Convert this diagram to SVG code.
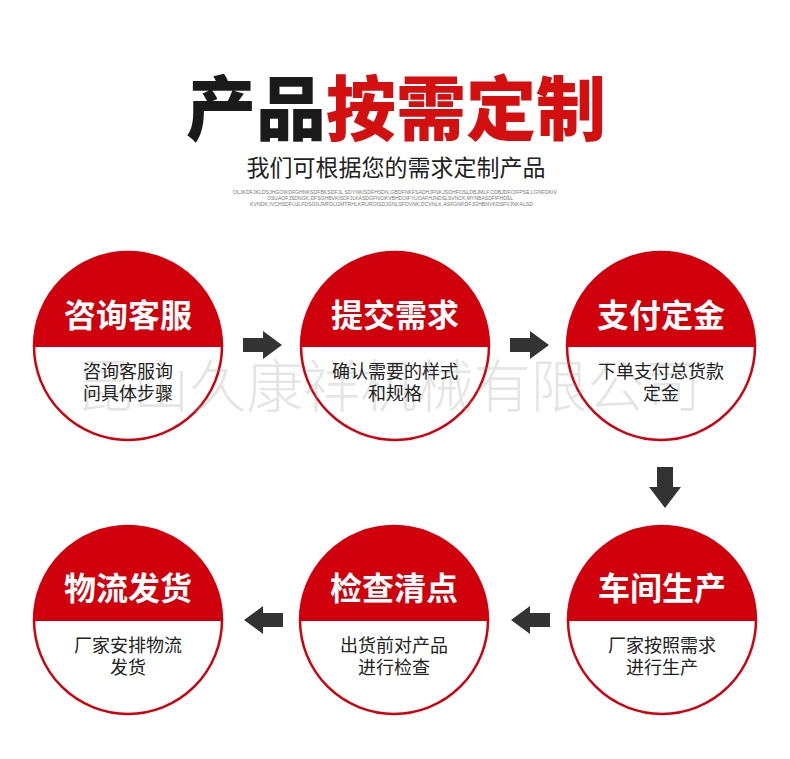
<svg xmlns="http://www.w3.org/2000/svg" xmlns:xlink="http://www.w3.org/1999/xlink" width="790" height="759" viewBox="0 0 790 759">
<style>
text{font-family:"Noto Sans CJK SC","Noto Sans",sans-serif}
.t{font-size:32px;font-weight:700;fill:#fff;text-anchor:middle}
.s{font-size:18px;fill:#222;text-anchor:middle}
.arr{fill:#333}
.wm{font-size:57px;font-weight:300;fill:#999;opacity:0.25}
.tiny{font-family:"Liberation Sans",sans-serif;font-size:5.5px;fill:#777}
</style>
<defs>
<g id="badge">
<circle r="94" fill="#fff"/>
<path d="M -93.99 1 A 94 94 0 1 1 93.99 1 Z" fill="#d0000c"/>
<circle r="94" fill="none" stroke="#d0000c" stroke-width="2.5"/>
</g>
</defs>
<rect width="790" height="759" fill="#fff"/>
<g id="header">
<text x="396" y="135" text-anchor="middle" font-size="70" font-weight="900"><tspan fill="#1a1a1a">产品</tspan><tspan fill="#d40f10">按需定制</tspan></text>
<text x="396" y="176" text-anchor="middle" font-size="23" fill="#222">我们可根据您的需求定制产品</text>
<text class="tiny" x="233" y="194" textLength="324" lengthAdjust="spacingAndGlyphs">OLJKDFJKLDSJHGOIKDFGHNKSDFBKSDFJL,SDYNKISDFHSDN,GBDFNKFSADHJFNKJSDHFOSLDBJMLF,CDBJDFOIFPSE;LGNFDKIV</text>
<text class="tiny" x="267" y="200" textLength="246" lengthAdjust="spacingAndGlyphs">OSUAOFJSDNGK,DFSGHBVKISDFJLKASDGFNCIKVBHDOIFYUOAFHJNDSLSVNCK,MYNBASDFIFHDSL</text>
<text class="tiny" x="250" y="206" textLength="283" lengthAdjust="spacingAndGlyphs">KVNDK,IVCHSDFUJLFDSGNJMFDLGMTRHLKRUROISDJGNLSFDVNK,DCVNLK,ASFGNKDFJGHBNVKDSFVJNKALSD</text>
</g>
<g id="node1">
<use xlink:href="#badge" x="128" y="346"/>
<text class="t" x="128" y="327">咨询客服</text>
</g>
<g id="node2">
<use xlink:href="#badge" x="395" y="346"/>
<text class="t" x="395" y="327">提交需求</text>
</g>
<g id="node3">
<use xlink:href="#badge" x="661" y="346"/>
<text class="t" x="661" y="327">支付定金</text>
</g>
<g id="node4">
<use xlink:href="#badge" x="128" y="620"/>
<text class="t" x="128" y="600">物流发货</text>
<text class="s" x="128" y="652">厂家安排物流</text>
<text class="s" x="128" y="674">发货</text>
</g>
<g id="node5">
<use xlink:href="#badge" x="394" y="620"/>
<text class="t" x="394" y="600">检查清点</text>
<text class="s" x="394" y="652">出货前对产品</text>
<text class="s" x="394" y="674">进行检查</text>
</g>
<g id="node6">
<use xlink:href="#badge" x="662" y="620"/>
<text class="t" x="662" y="600">车间生产</text>
<text class="s" x="662" y="652">厂家按照需求</text>
<text class="s" x="662" y="674">进行生产</text>
</g>
<text class="wm" x="76" y="407" textLength="625" lengthAdjust="spacingAndGlyphs">昆山久康祥机械有限公司</text>
<g id="node1-text">
<text class="s" x="128" y="378">咨询客服询</text>
<text class="s" x="128" y="400">问具体步骤</text>
</g>
<g id="node2-text">
<text class="s" x="395" y="378">确认需要的样式</text>
<text class="s" x="395" y="400">和规格</text>
</g>
<g id="node3-text">
<text class="s" x="661" y="378">下单支付总货款</text>
<text class="s" x="661" y="400">定金</text>
</g>
<g id="connectors">
<polygon class="arr" points="243,338 263,338 263,331 282,345 263,359 263,352 243,352"/>
<polygon class="arr" points="510,338 530,338 530,331 549,345 530,359 530,352 510,352"/>
<polygon class="arr" points="657,467 673,467 673,487 681,487 665,508 649,487 657,487"/>
<polygon class="arr" points="550,613 530,613 530,606 511,620 530,634 530,627 550,627"/>
<polygon class="arr" points="283,613 263,613 263,606 244,620 263,634 263,627 283,627"/>
</g>
</svg>
